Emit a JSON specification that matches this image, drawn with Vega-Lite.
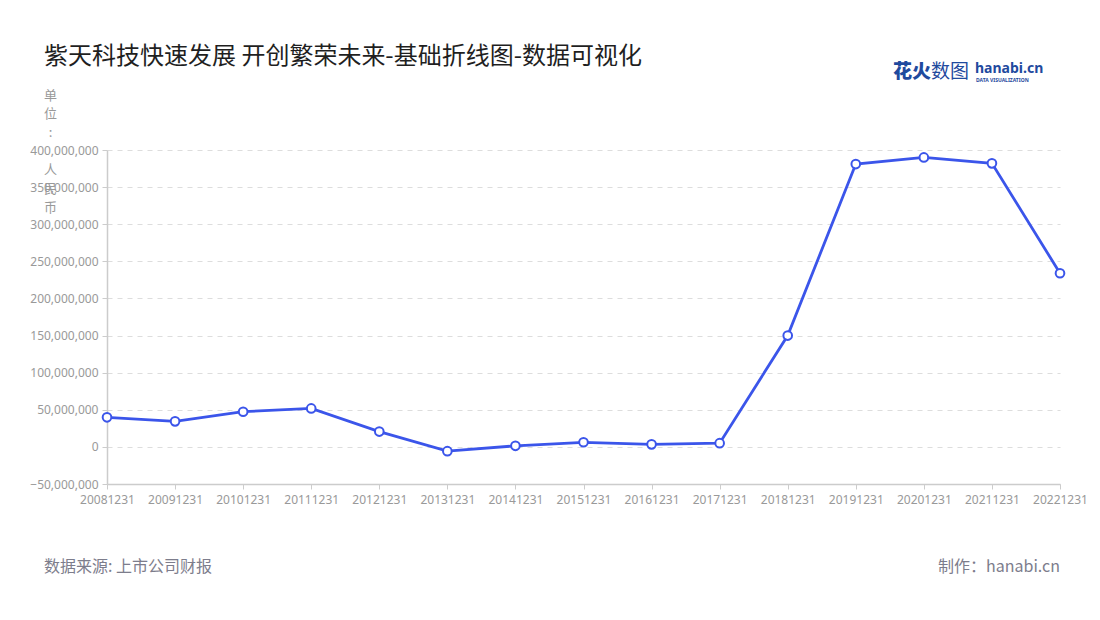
{
  "$schema": "https://vega.github.io/schema/vega-lite/v6.json",
  "autosize": {"type": "none"},
  "width": 953,
  "height": 334,
  "padding": {"left": 107, "top": 150, "right": 40, "bottom": 136},
  "background": "#ffffff",
  "config": {
    "font": "Noto Sans CJK SC",
    "view": {"stroke": null}
  },
  "title": {
    "text": "紫天科技快速发展 开创繁荣未来-基础折线图-数据可视化",
    "anchor": "start",
    "frame": "group",
    "dx": -63,
    "dy": 27,
    "offset": 20,
    "fontSize": 24,
    "fontWeight": "normal",
    "color": "#1f1f1f",
    "font": "Noto Sans CJK SC"
  },
  "layer": [
    {
      "data": {
        "values": [
          {"date": "20081231", "value": 39800000},
          {"date": "20091231", "value": 34400000},
          {"date": "20101231", "value": 47400000},
          {"date": "20111231", "value": 51800000},
          {"date": "20121231", "value": 20600000},
          {"date": "20131231", "value": -5800000},
          {"date": "20141231", "value": 1400000},
          {"date": "20151231", "value": 6200000},
          {"date": "20161231", "value": 3400000},
          {"date": "20171231", "value": 5000000},
          {"date": "20181231", "value": 150000000},
          {"date": "20191231", "value": 381000000},
          {"date": "20201231", "value": 390000000},
          {"date": "20211231", "value": 382000000},
          {"date": "20221231", "value": 234000000}
        ]
      },
      "mark": {
        "type": "line",
        "color": "#3b55ea",
        "strokeWidth": 2.8,
        "point": {"filled": true, "fill": "#ffffff", "stroke": "#3b55ea", "strokeWidth": 2, "size": 75}
      },
      "encoding": {
        "x": {
          "field": "date",
          "type": "ordinal",
          "scale": {"type": "point", "padding": 0},
          "axis": {
            "title": null,
            "labelAngle": 0,
            "labelColor": "#999999",
            "labelFontSize": 12,
            "labelFont": "Noto Sans",
            "labelPadding": 5,
            "domainColor": "#cccccc",
            "domainWidth": 1.5,
            "tickColor": "#cccccc",
            "tickSize": 5,
            "grid": false
          }
        },
        "y": {
          "field": "value",
          "type": "quantitative",
          "scale": {"domain": [-50000000, 400000000], "nice": false, "zero": false},
          "axis": {
            "values": [-50000000, 0, 50000000, 100000000, 150000000, 200000000, 250000000, 300000000, 350000000, 400000000],
            "format": ",d",
            "labelColor": "#999999",
            "labelFontSize": 12,
            "labelFont": "Noto Sans",
            "labelPadding": 4,
            "domainColor": "#cccccc",
            "domainWidth": 1.5,
            "tickColor": "#cccccc",
            "tickSize": 5,
            "grid": true,
            "gridColor": "#dddddd",
            "gridDash": [5, 5],
            "title": ["单", "位", ":", "\u200b", "人", "民", "币"],
            "titleAngle": 0,
            "titleX": -57,
            "titleY": -61,
            "titleAlign": "center",
            "titleBaseline": "top",
            "titleLineHeight": 18.7,
            "titleColor": "#999999",
            "titleFontSize": 13,
            "titleFontWeight": "normal"
          }
        }
      }
    },
    {
      "data": {"values": [{"t": "数据来源: 上市公司财报"}]},
      "mark": {"type": "text", "align": "left", "baseline": "middle", "fontSize": 16, "color": "#7d7d8c", "font": "Noto Sans CJK SC"},
      "encoding": {"text": {"field": "t"}, "x": {"value": -63}, "y": {"value": 417}}
    },
    {
      "data": {"values": [{"t": "制作：hanabi.cn"}]},
      "mark": {"type": "text", "align": "right", "baseline": "middle", "fontSize": 16, "color": "#7d7d8c", "font": "Noto Sans CJK SC"},
      "encoding": {"text": {"field": "t"}, "x": {"value": 953}, "y": {"value": 417}}
    },
    {
      "data": {"values": [{"t": "花火"}]},
      "mark": {"type": "text", "align": "left", "baseline": "middle", "fontSize": 19, "fontWeight": 900, "color": "#1f4a9e", "font": "Noto Sans CJK SC"},
      "encoding": {"text": {"field": "t"}, "x": {"value": 786}, "y": {"value": -78}}
    },
    {
      "data": {"values": [{"t": "数图"}]},
      "mark": {"type": "text", "align": "left", "baseline": "middle", "fontSize": 19, "fontWeight": "normal", "color": "#1f4a9e", "font": "Noto Sans CJK SC"},
      "encoding": {"text": {"field": "t"}, "x": {"value": 824}, "y": {"value": -78}}
    },
    {
      "data": {"values": [{"t": "hanabi.cn"}]},
      "mark": {"type": "text", "align": "left", "baseline": "middle", "fontSize": 14, "fontWeight": "bold", "color": "#1f4a9e", "font": "Noto Sans"},
      "encoding": {"text": {"field": "t"}, "x": {"value": 868}, "y": {"value": -81}}
    },
    {
      "data": {"values": [{"t": "DATA VISUALIZATION"}]},
      "mark": {"type": "text", "align": "left", "baseline": "middle", "fontSize": 5, "fontWeight": "bold", "color": "#1f4a9e", "font": "Noto Sans"},
      "encoding": {"text": {"field": "t"}, "x": {"value": 869}, "y": {"value": -70}}
    }
  ]
}
